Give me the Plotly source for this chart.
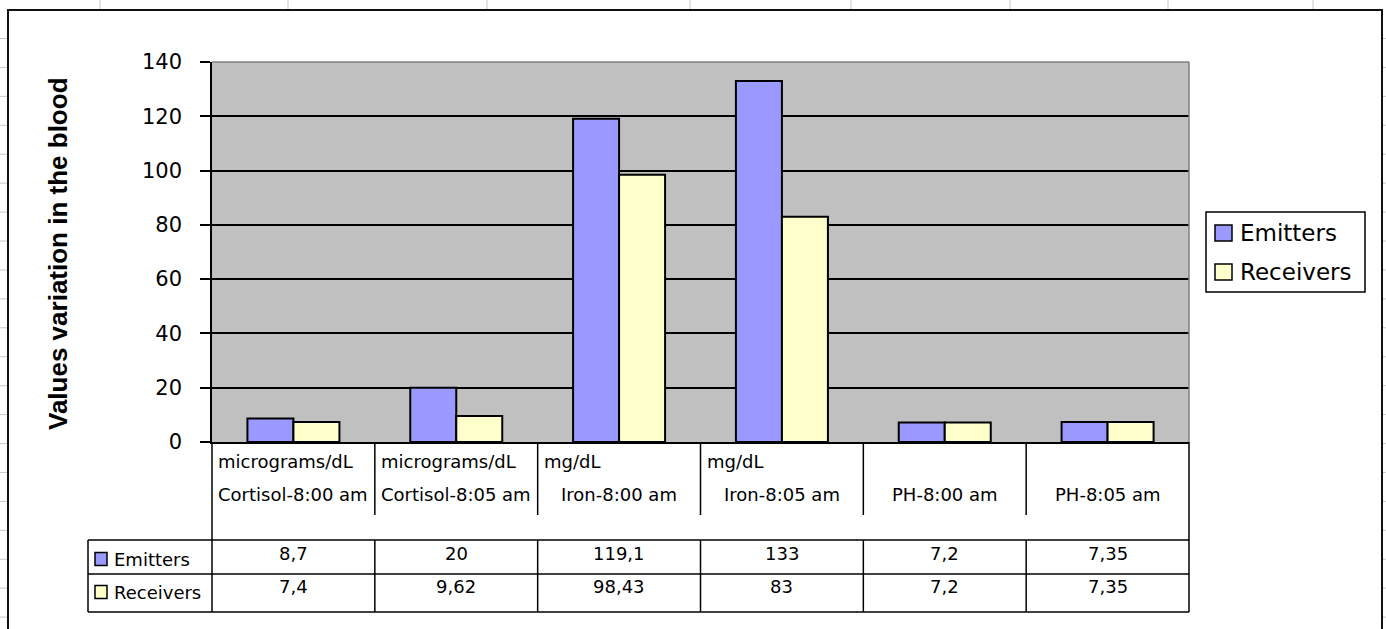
import plotly.graph_objects as go

# ---------------- data ----------------
categories = ["Cortisol-8:00 am", "Cortisol-8:05 am", "Iron-8:00 am",
              "Iron-8:05 am", "PH-8:00 am", "PH-8:05 am"]
units = ["micrograms/dL", "micrograms/dL", "mg/dL", "mg/dL", "", ""]
emitters = [8.7, 20, 119.1, 133, 7.2, 7.35]
receivers = [7.4, 9.62, 98.43, 83, 7.2, 7.35]
series_names = ["Emitters", "Receivers"]
series_colors = ["#9999FF", "#FFFFCC"]
y_ticks = [0, 20, 40, 60, 80, 100, 120, 140]
y_title = "Values variation in the blood"

# ---------------- geometry ----------------
W, H = 1386, 629
L, R, T, B = 212, 1189, 62, 442


def xp(px):
    return (px - L) / (R - L)


def yp(py):
    return (B - py) / (B - T)


def fmt(v):
    return str(v).replace(".", ",")


FONT = "DejaVu Sans"
fig = go.Figure()
for name, vals, col in zip(series_names, [emitters, receivers], series_colors):
    fig.add_bar(x=categories, y=vals, name=name,
                marker=dict(color=col, line=dict(color="black", width=2)))

shapes = []
annotations = []


def line(x0, y0, x1, y1, xref="paper", yref="paper", color="black", width=1.5):
    shapes.append(dict(type="line", x0=x0, y0=y0, x1=x1, y1=y1, xref=xref,
                       yref=yref, line=dict(color=color, width=width)))


def rect(x0, y0, x1, y1, fill, color="black", width=1.5):
    shapes.append(dict(type="rect", x0=x0, y0=y0, x1=x1, y1=y1, xref="paper",
                       yref="paper", fillcolor=fill,
                       line=dict(color=color, width=width)))


def text(x, y, s, size=18, xanchor="center", xref="paper", family=FONT, **kw):
    annotations.append(dict(x=x, y=y, xref=xref, yref="paper", text=s,
                            showarrow=False, xanchor=xanchor, yanchor="middle",
                            font=dict(family=family, size=size, color="black"), **kw))


# spreadsheet background grid
for gx in [100, 288, 487, 690, 851, 1010, 1168, 1313]:
    line(xp(gx), yp(0), xp(gx), yp(10), color="#c8c8c8", width=1)
k = 0
while 38.5 + 28.93 * k < H:
    gy = 38.5 + 28.93 * k
    line(xp(0), yp(gy), xp(8), yp(gy), color="#c8c8c8", width=1)
    line(xp(1382), yp(gy), xp(1386), yp(gy), color="#c8c8c8", width=1)
    k += 1

# chart-area border
rect(xp(8), yp(10), xp(1382), yp(640), "rgba(0,0,0,0)", color="#111", width=2)

# plot-area gray border top/right
line(0, 1, 1, 1, color="#808080", width=1.5)
line(1, 0, 1, 1, color="#808080", width=1.5)

# category label separators
n = len(categories)
for i in range(1, n):
    line(i - 0.5, 0, i - 0.5, yp(515), xref="x")
line(0, 0, 0, yp(612))
line(1, 0, 1, yp(612))

# data table lines
for ty in [540, 574, 612]:
    line(xp(88), yp(ty), 1, yp(ty))
line(xp(88), yp(540), xp(88), yp(612))
for i in range(1, n):
    line(i - 0.5, yp(540), i - 0.5, yp(612), xref="x")

# category labels
for i, (c, u) in enumerate(zip(categories, units)):
    if u:
        text(i - 0.5, yp(461), u, xref="x", xanchor="left", xshift=4)
    text(c, yp(494), c, xref="x")

# table values
for vals, ty in [(emitters, 553), (receivers, 586)]:
    for c, v in zip(categories, vals):
        text(c, yp(ty), fmt(v), xref="x")

# table row labels with keys
for name, col, cy in zip(series_names, series_colors, [559, 592]):
    rect(xp(95), yp(cy - 6.5), xp(107), yp(cy + 6.5), col, width=1.5)
    text(xp(112), yp(cy), name, xanchor="left")

# legend
rect(xp(1206), yp(212), xp(1365), yp(292), "white", width=1.5)
for name, col, cy in zip(series_names, series_colors, [233, 272]):
    rect(xp(1215), yp(cy - 8), xp(1232), yp(cy + 8), col, width=1.5)
    text(xp(1238), yp(cy), name, size=23, xanchor="left")

# y-axis title
text(xp(58), yp(254), "<b>" + y_title + "</b>", size=26,
     family="Liberation Sans, Arial", textangle=-90)

fig.update_layout(
    width=W, height=H,
    margin=dict(l=L, r=W - R, t=T, b=H - B, pad=0),
    paper_bgcolor="white", plot_bgcolor="#C0C0C0",
    showlegend=False, barmode="group", bargap=0.435, bargroupgap=0,
    xaxis=dict(showticklabels=False, ticks="", showgrid=False, zeroline=False,
               showline=True, linecolor="black", linewidth=1.5,
               range=[-0.5, n - 0.5], fixedrange=True),
    yaxis=dict(range=[0, 140], tickvals=y_ticks, ticks="outside", ticklen=10,
               tickcolor="black", tickwidth=1.5, showline=True, linecolor="black",
               linewidth=1.5, showgrid=True, gridcolor="black", gridwidth=1.5,
               zeroline=False, ticklabelstandoff=14,
               tickfont=dict(family=FONT, size=21, color="black")),
    shapes=shapes, annotations=annotations,
)

fig.write_html("out.html", config={"displayModeBar": False},
               post_script="document.body.style.margin='0px';document.body.style.overflow='hidden';")
